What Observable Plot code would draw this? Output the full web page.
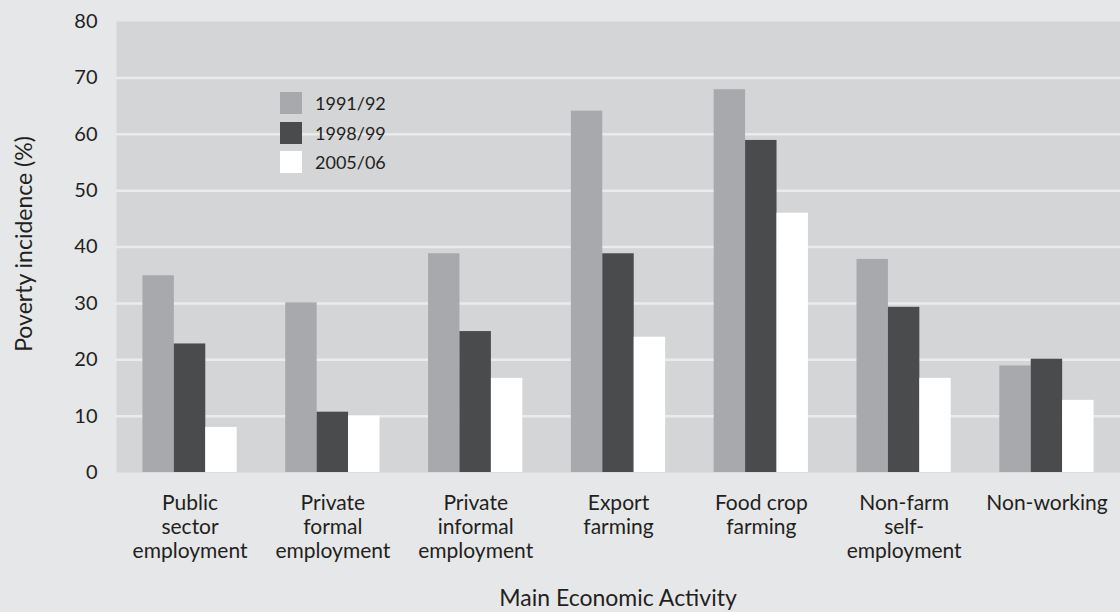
<!DOCTYPE html>
<html>
<head>
<meta charset="utf-8">
<script src="https://cdn.jsdelivr.net/npm/d3@7"></script>
<script src="https://cdn.jsdelivr.net/npm/@observablehq/plot@0.6"></script>
<style>
  html, body { margin: 0; padding: 0; background: #e6e7e8; }
  #wrap { position: relative; width: 1120px; height: 612px; background: #e6e7e8; font-family: Lato, "Open Sans", sans-serif; color: #231f20; overflow: hidden; }
  #wrap > svg, #wrap > figure { position: absolute; left: 0; top: 0; margin: 0; }
  #legend { position: absolute; left: 280px; top: 92px; font-size: 18px; }
  #legend .item { display: flex; align-items: center; height: 22px; margin-bottom: 7.5px; }
  #legend .sw { width: 22px; height: 22px; margin-right: 13px; box-sizing: border-box; }
  .title { position: absolute; font-size: 23px; white-space: nowrap; line-height: 1; }
  #xtitle { left: 618px; top: 586px; transform: translateX(-50%); }
  #ytitle { left: 23px; top: 244px; transform: translate(-50%, -50%) rotate(-90deg); }
</style>
</head>
<body>
<div id="wrap"></div>
<script>
// ---- data ----
const categories = [
  "Public sector employment",
  "Private formal employment",
  "Private informal employment",
  "Export farming",
  "Food crop farming",
  "Non-farm self-employment",
  "Non-working"
];
const categoryLabels = [
  "Public\nsector\nemployment",
  "Private\nformal\nemployment",
  "Private\ninformal\nemployment",
  "Export\nfarming",
  "Food crop\nfarming",
  "Non-farm\nself-\nemployment",
  "Non-working"
];
const years = ["1991/92", "1998/99", "2005/06"];
const v1991 = [34.9, 30.1, 38.8, 64.1, 67.9, 37.8, 18.9];
const v1998 = [22.8, 10.7, 25.0, 38.8, 58.9, 29.3, 20.1];
const v2005 = [8.0, 10.0, 16.7, 24.0, 46.0, 16.7, 12.8];
const yTicks = [0, 10, 20, 30, 40, 50, 60, 70, 80];
const gridTicks = [10, 20, 30, 40, 50, 60, 70];
const colors = ["#a8a9ac", "#4a4b4d", "#ffffff"];
const xTitle = "Main Economic Activity";
const yTitle = "Poverty incidence (%)";

const series = [v1991, v1998, v2005];
const data = [];
categories.forEach((c, i) => {
  years.forEach((yr, j) => data.push({cat: c, year: yr, value: series[j][i]}));
});
const labelOf = new Map(categories.map((c, i) => [c, categoryLabels[i]]));

const W = 1120, H = 612;
const margins = {marginLeft: 116, marginRight: 0, marginTop: 21, marginBottom: 140};
const font = "Lato, 'Open Sans', sans-serif";

// background layer: plot area, grid, y axis
const bg = Plot.plot({
  width: W, height: H, ...margins,
  style: {background: "transparent", fontFamily: font, fontSize: "20px", color: "#231f20"},
  y: {domain: [0, 80]},
  marks: [
    Plot.frame({fill: "#d4d5d7", stroke: "none"}),
    Plot.gridY(gridTicks, {stroke: "#eaebec", strokeOpacity: 1, strokeWidth: 2.5}),
    Plot.axisY(yTicks, {tickSize: 0, tickPadding: 19, fontSize: 20, label: null})
  ]
});

// bars layer
const fg = Plot.plot({
  width: W, height: H, ...margins,
  style: {background: "transparent", fontFamily: font, fontSize: "20px", color: "#231f20"},
  fx: {domain: categories, paddingInner: 0.34, paddingOuter: 0.185, round: false},
  x: {domain: years, padding: 0, round: false, axis: null},
  y: {domain: [0, 80], axis: null},
  color: {domain: years, range: colors},
  marks: [
    Plot.barY(data, {fx: "cat", x: "year", y: "value", fill: "year"}),
    Plot.axisFx({
      anchor: "bottom",
      tickFormat: d => labelOf.get(d), tickSize: 0, tickPadding: 21, lineHeight: 1.13, fontSize: 21,
      label: null
    })
  ]
});

const wrap = document.getElementById("wrap");
wrap.appendChild(bg);
wrap.appendChild(fg);

// axis titles
const xt = document.createElement("div");
xt.className = "title"; xt.id = "xtitle"; xt.textContent = xTitle;
const yt = document.createElement("div");
yt.className = "title"; yt.id = "ytitle"; yt.textContent = yTitle;
wrap.appendChild(xt);
wrap.appendChild(yt);

// legend
const legend = document.createElement("div");
legend.id = "legend";
years.forEach((yr, j) => {
  const item = document.createElement("div");
  item.className = "item";
  const sw = document.createElement("div");
  sw.className = "sw";
  sw.style.background = colors[j];
  const t = document.createElement("span");
  t.textContent = yr;
  item.appendChild(sw);
  item.appendChild(t);
  legend.appendChild(item);
});
wrap.appendChild(legend);
</script>
</body>
</html>
